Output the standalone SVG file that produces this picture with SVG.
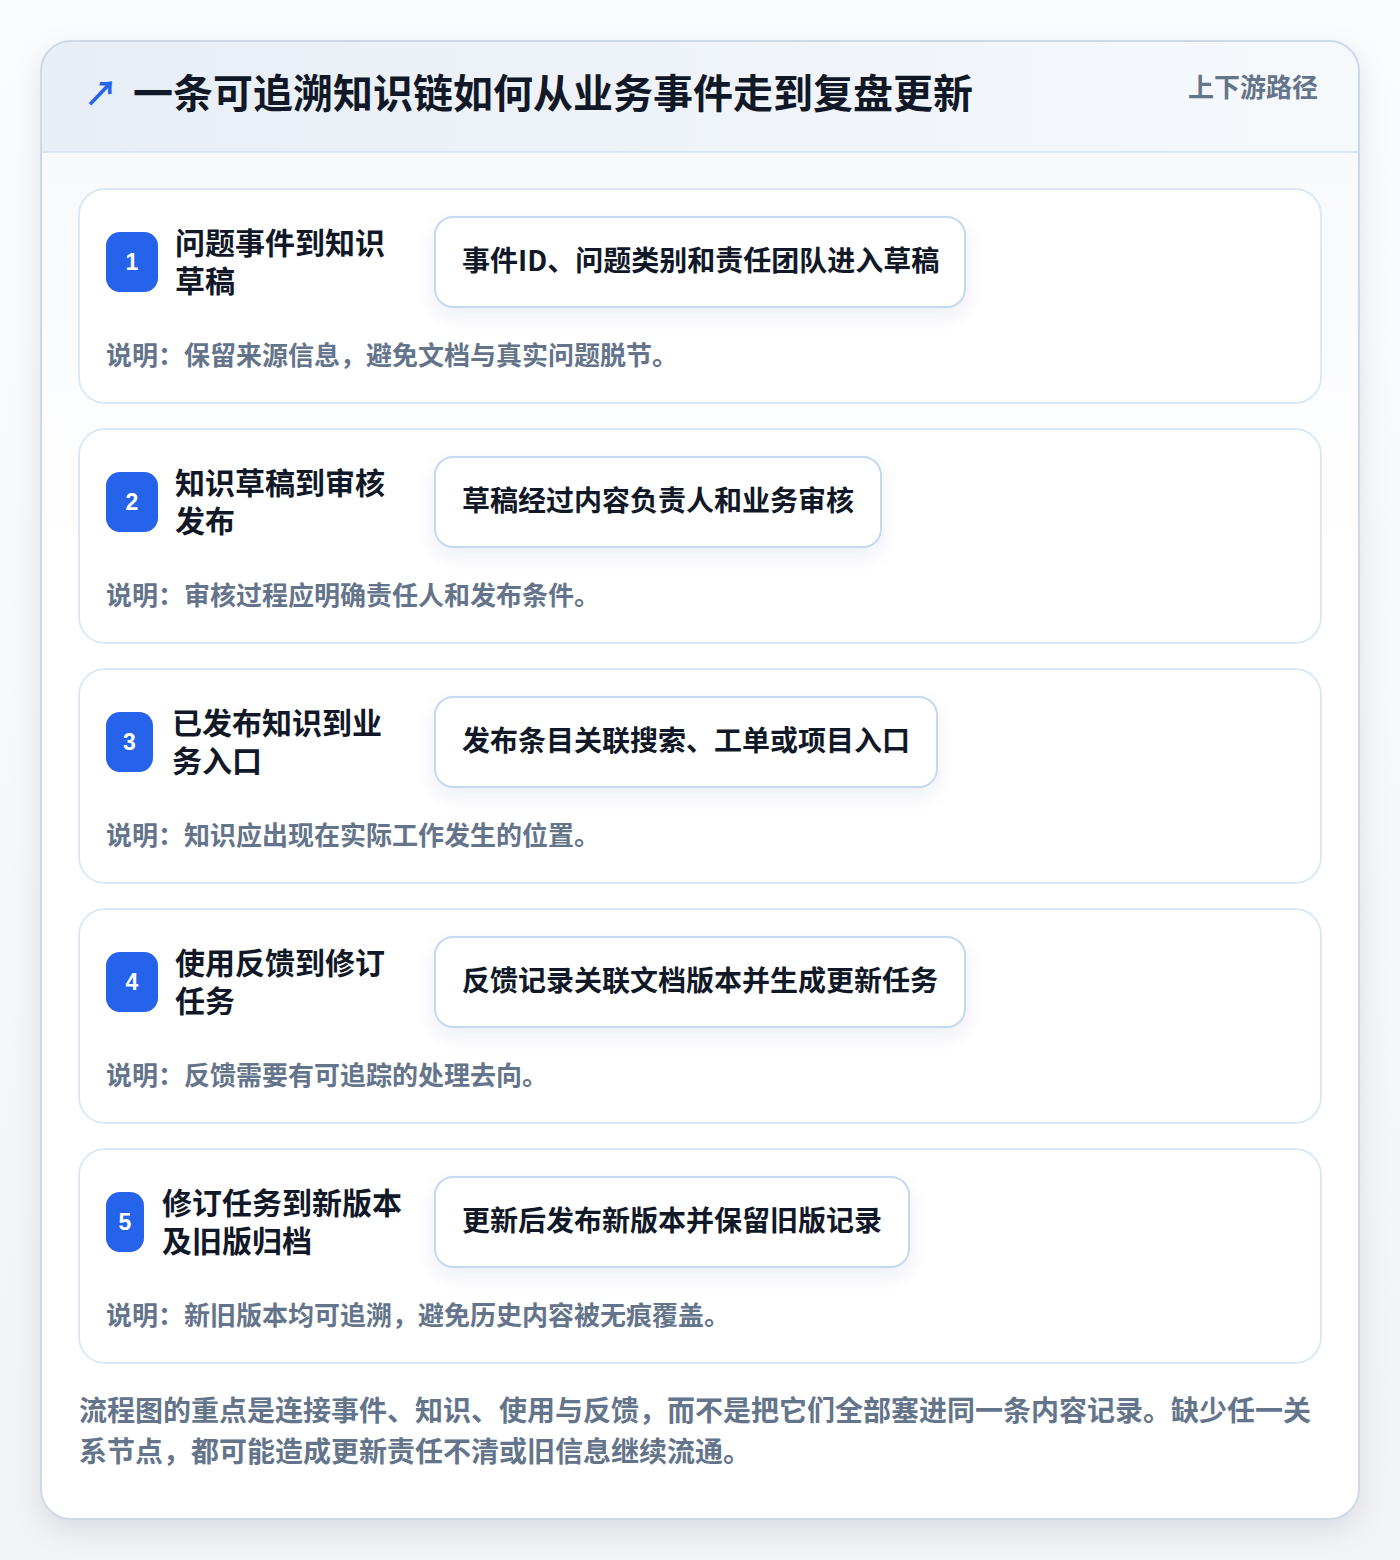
<svg xmlns="http://www.w3.org/2000/svg" width="1400" height="1560" viewBox="0 0 1400 1560">
<defs>
<linearGradient id="pageBg" x1="0" y1="0" x2="0" y2="1">
<stop offset="0" stop-color="#fbfcfd"/>
<stop offset="1" stop-color="#f1f3f6"/>
</linearGradient>
<linearGradient id="headBg" x1="0" y1="0" x2="1" y2="0">
<stop offset="0" stop-color="#e8eef6"/>
<stop offset="1" stop-color="#f6f9fc"/>
</linearGradient>
<linearGradient id="bodyBg" x1="0" y1="0" x2="0" y2="1">
<stop offset="0" stop-color="#f7f9fc"/>
<stop offset="0.3" stop-color="#ffffff"/>
<stop offset="1" stop-color="#ffffff"/>
</linearGradient>
<clipPath id="cardClip"><rect x="41" y="41" width="1318" height="1478" rx="30"/></clipPath>
<filter id="outerShadow" x="-10%" y="-10%" width="120%" height="120%">
<feDropShadow dx="0" dy="10" stdDeviation="14" flood-color="#0f172a" flood-opacity="0.10"/>
</filter>
<filter id="pillShadow" x="-10%" y="-30%" width="120%" height="170%">
<feDropShadow dx="0" dy="8" stdDeviation="9" flood-color="#1e3a8a" flood-opacity="0.08"/>
</filter>
</defs>
<style>
.cjk{font-family:"Noto Sans CJK SC","Noto Sans",sans-serif;}
.title{font-size:40px;font-weight:700;fill:#111827;}
.tag{font-size:26px;font-weight:600;fill:#64748b;}
.card{fill:#ffffff;stroke:#dce8f6;stroke-width:2;}
.badge{fill:#2563eb;}
.num{font-family:"Liberation Sans",Arial,sans-serif;font-size:23px;font-weight:700;fill:#ffffff;text-anchor:middle;}
.label{font-size:30px;font-weight:700;fill:#111827;}
.pill{fill:#ffffff;stroke:#c4d8f2;stroke-width:2;}
.pilltext{font-size:28px;font-weight:700;fill:#111827;}
.desc{font-size:26px;font-weight:600;fill:#64748b;}
.foot{font-size:28px;font-weight:600;fill:#64748b;}
</style>
<rect x="0" y="0" width="1400" height="1560" fill="url(#pageBg)"/>
<g id="frame">
<rect x="41" y="41" width="1318" height="1478" rx="30" fill="#ffffff" filter="url(#outerShadow)"/>
<g clip-path="url(#cardClip)">
<rect x="41" y="152" width="1318" height="1367" fill="url(#bodyBg)"/>
<rect x="41" y="41" width="1318" height="111" fill="url(#headBg)"/>
<line x1="41" y1="152" x2="1359" y2="152" stroke="#d9e5f3" stroke-width="2"/>
</g>
<rect x="41" y="41" width="1318" height="1478" rx="30" fill="none" stroke="#cfd9e6" stroke-width="2"/>
</g>
<g id="header">
<text x="84" y="106" class="cjk" font-size="34" font-weight="700" fill="#2563eb">↗</text>
<text x="133" y="108" class="cjk title">一条可追溯知识链如何从业务事件走到复盘更新</text>
<text x="1318" y="97" class="cjk tag" text-anchor="end">上下游路径</text>
</g>
<g id="connectors"></g>
<g id="step1">
<rect class="card" x="79" y="189" width="1242" height="214" rx="26"/>
<rect class="badge" x="106" y="232" width="52" height="60" rx="14"/>
<text class="num" x="132" y="270">1</text>
<text class="cjk label" x="175" y="254">问题事件到知识</text>
<text class="cjk label" x="175" y="292">草稿</text>
<rect class="pill" x="435" y="217" width="530" height="90" rx="18" filter="url(#pillShadow)"/>
<text class="cjk pilltext" x="462" y="271">事件ID、问题类别和责任团队进入草稿</text>
<text class="cjk desc" x="106" y="365">说明：保留来源信息，避免文档与真实问题脱节。</text>
</g>
<g id="step2">
<rect class="card" x="79" y="429" width="1242" height="214" rx="26"/>
<rect class="badge" x="106" y="472" width="52" height="60" rx="14"/>
<text class="num" x="132" y="510">2</text>
<text class="cjk label" x="175" y="494">知识草稿到审核</text>
<text class="cjk label" x="175" y="532">发布</text>
<rect class="pill" x="435" y="457" width="446" height="90" rx="18" filter="url(#pillShadow)"/>
<text class="cjk pilltext" x="462" y="511">草稿经过内容负责人和业务审核</text>
<text class="cjk desc" x="106" y="605">说明：审核过程应明确责任人和发布条件。</text>
</g>
<g id="step3">
<rect class="card" x="79" y="669" width="1242" height="214" rx="26"/>
<rect class="badge" x="106" y="712" width="47" height="60" rx="14"/>
<text class="num" x="129.5" y="750">3</text>
<text class="cjk label" x="172" y="734">已发布知识到业</text>
<text class="cjk label" x="172" y="772">务入口</text>
<rect class="pill" x="435" y="697" width="502" height="90" rx="18" filter="url(#pillShadow)"/>
<text class="cjk pilltext" x="462" y="751">发布条目关联搜索、工单或项目入口</text>
<text class="cjk desc" x="106" y="845">说明：知识应出现在实际工作发生的位置。</text>
</g>
<g id="step4">
<rect class="card" x="79" y="909" width="1242" height="214" rx="26"/>
<rect class="badge" x="106" y="952" width="52" height="60" rx="14"/>
<text class="num" x="132" y="990">4</text>
<text class="cjk label" x="175" y="974">使用反馈到修订</text>
<text class="cjk label" x="175" y="1012">任务</text>
<rect class="pill" x="435" y="937" width="530" height="90" rx="18" filter="url(#pillShadow)"/>
<text class="cjk pilltext" x="462" y="991">反馈记录关联文档版本并生成更新任务</text>
<text class="cjk desc" x="106" y="1085">说明：反馈需要有可追踪的处理去向。</text>
</g>
<g id="step5">
<rect class="card" x="79" y="1149" width="1242" height="214" rx="26"/>
<rect class="badge" x="106" y="1192" width="38" height="60" rx="14"/>
<text class="num" x="125" y="1230">5</text>
<text class="cjk label" x="162" y="1214">修订任务到新版本</text>
<text class="cjk label" x="162" y="1252">及旧版归档</text>
<rect class="pill" x="435" y="1177" width="474" height="90" rx="18" filter="url(#pillShadow)"/>
<text class="cjk pilltext" x="462" y="1231">更新后发布新版本并保留旧版记录</text>
<text class="cjk desc" x="106" y="1325">说明：新旧版本均可追溯，避免历史内容被无痕覆盖。</text>
</g>
<g id="footer">
<text class="cjk foot" x="79" y="1421">流程图的重点是连接事件、知识、使用与反馈，而不是把它们全部塞进同一条内容记录。缺少任一关</text>
<text class="cjk foot" x="79" y="1462">系节点，都可能造成更新责任不清或旧信息继续流通。</text>
</g>
</svg>
